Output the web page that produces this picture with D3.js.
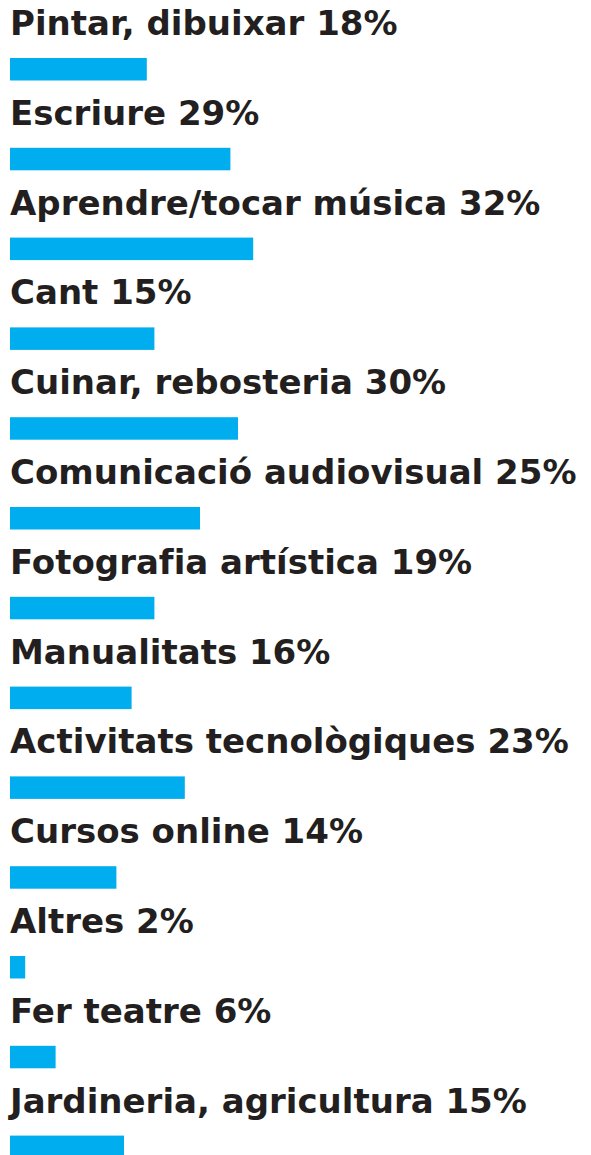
<!DOCTYPE html>
<html lang="ca">
<head>
<meta charset="utf-8">
<title>Activitats</title>
<script src="https://d3js.org/d3.v7.min.js"></script>
<style>
  body { margin: 0; background: #fff; }
  text { font-family: "DejaVu Sans", sans-serif; font-weight: 700; fill: #231f20; }
</style>
</head>
<body>
<script>
// dades
var categories = ["Pintar, dibuixar", "Escriure", "Aprendre/tocar música", "Cant",
  "Cuinar, rebosteria", "Comunicació audiovisual", "Fotografia artística", "Manualitats",
  "Activitats tecnològiques", "Cursos online", "Altres", "Fer teatre", "Jardineria, agricultura"];
// percentatge escrit a l'etiqueta
var percents = [18, 29, 32, 15, 30, 25, 19, 16, 23, 14, 2, 6, 15];
// llargada de la barra tal com surt dibuixada (la de Cant fa ~19)
var barValues = [18, 29, 32, 19, 30, 25, 19, 16, 23, 14, 2, 6, 15];

var W = 591, H = 1155;
var rowH = 89.8;

var svg = d3.select("body").append("svg")
  .attr("width", W)
  .attr("height", H);

var x = d3.scaleLinear().domain([0, 100]).range([0, 760]);
var y = d3.scaleBand().domain(categories).range([0, rowH * categories.length]);

var rows = svg.selectAll("g.row")
  .data(categories)
  .enter()
  .append("g")
  .attr("class", "row")
  .attr("transform", function(d) { return "translate(10," + y(d) + ")"; });

rows.append("text")
  .attr("x", 0)
  .attr("y", 35)
  .style("font-size", "34px")
  .text(function(d, i) { return d + " " + percents[i] + "%"; });

rows.append("rect")
  .attr("x", 0)
  .attr("y", 58)
  .attr("width", function(d, i) { return x(barValues[i]); })
  .attr("height", 22.5)
  .attr("fill", "#00adef");
</script>
</body>
</html>
